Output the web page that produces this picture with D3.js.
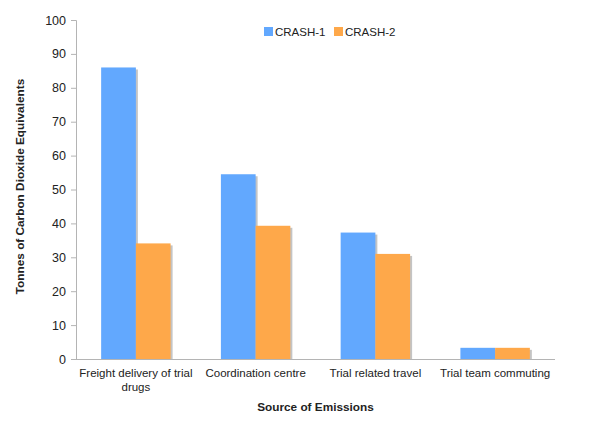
<!DOCTYPE html>
<html>
<head>
<meta charset="utf-8">
<script src="https://cdn.jsdelivr.net/npm/d3@7"></script>
<style>
  body { margin: 0; background: #fff; }
  text { font-family: "Liberation Sans", Arial, sans-serif; fill: #222; }
  .axis path, .axis line { stroke: #b4b4b4; }
</style>
</head>
<body>
<div id="chart"></div>
<script>
var categories = ["Freight delivery of trial drugs", "Coordination centre", "Trial related travel", "Trial team commuting"];
var seriesNames = ["CRASH-1", "CRASH-2"];
var crash1 = [86, 54.5, 37.3, 3.3];
var crash2 = [34.1, 39.3, 31, 3.3];
var yTicks = [0, 10, 20, 30, 40, 50, 60, 70, 80, 90, 100];
var colors = ["#62a8fe", "#fea84a"];

var margin = { top: 20, right: 45, bottom: 74, left: 76 },
    width = 600 - margin.left - margin.right,
    height = 433 - margin.top - margin.bottom;

var svg = d3.select("#chart").append("svg")
    .attr("width", 600)
    .attr("height", 433)
  .append("g")
    .attr("transform", "translate(" + margin.left + "," + margin.top + ")");

var x = d3.scaleBand().domain(categories).range([0, width]);
var x1 = d3.scaleBand().domain(seriesNames).range([x.bandwidth() * 0.21, x.bandwidth() * 0.79]);
var y = d3.scaleLinear().domain([0, 100]).range([height, 0]);

var rows = categories.map(function(c, i) {
  return { cat: c, vals: [{ s: seriesNames[0], v: crash1[i] }, { s: seriesNames[1], v: crash2[i] }] };
});

// y axis
var yAxis = svg.append("g").attr("class", "axis")
    .call(d3.axisLeft(y).tickValues(yTicks).tickSize(5).tickPadding(5));
yAxis.selectAll("text").style("font-size", "12.5px");

var groups = svg.selectAll(".grp")
    .data(rows)
  .enter().append("g")
    .attr("class", "grp")
    .attr("transform", function(d) { return "translate(" + x(d.cat) + ",0)"; });

// shadows
groups.selectAll(".shadow")
    .data(function(d) { return d.vals; })
  .enter().append("rect")
    .attr("x", function(d) { return x1(d.s) + 2; })
    .attr("y", function(d) { return y(d.v) + 2; })
    .attr("width", x1.bandwidth())
    .attr("height", function(d) { return height - y(d.v) - 2; })
    .attr("fill", "#c4c4c4");

groups.selectAll(".bar")
    .data(function(d) { return d.vals; })
  .enter().append("rect")
    .attr("x", function(d) { return x1(d.s); })
    .attr("y", function(d) { return y(d.v); })
    .attr("width", x1.bandwidth())
    .attr("height", function(d) { return height - y(d.v); })
    .attr("fill", function(d, i) { return colors[i]; });

// x axis
var xAxis = svg.append("g").attr("class", "axis")
    .attr("transform", "translate(0," + height + ")")
    .call(d3.axisBottom(x).tickSize(0).tickSizeOuter(0).tickPadding(10));
xAxis.select(".domain").attr("d", "M0,0.5H" + width);
xAxis.selectAll("text").style("font-size", "11.5px").each(function(d) {
  var t = d3.select(this);
  if (d === categories[0]) {
    t.text(null);
    t.append("tspan").attr("x", 0).attr("dy", "0.71em").text("Freight delivery of trial");
    t.append("tspan").attr("x", 0).attr("dy", "1.2em").text("drugs");
  }
});

// axis titles
svg.append("text")
    .attr("transform", "rotate(-90)")
    .attr("x", -height / 2 + 3)
    .attr("y", -52)
    .attr("text-anchor", "middle")
    .style("font-size", "11.8px")
    .style("font-weight", "bold")
    .text("Tonnes of Carbon Dioxide Equivalents");

svg.append("text")
    .attr("x", width / 2)
    .attr("y", height + 52)
    .attr("text-anchor", "middle")
    .style("font-size", "11.8px")
    .style("font-weight", "bold")
    .text("Source of Emissions");

// legend
var legend = svg.append("g").attr("transform", "translate(188,6)");
var lx = [0, 70];
seriesNames.forEach(function(s, i) {
  var g = legend.append("g").attr("transform", "translate(" + lx[i] + ",0)");
  g.append("rect").attr("width", 9).attr("height", 9).attr("y", 1).attr("fill", colors[i]);
  g.append("text").attr("x", 11).attr("y", 10).style("font-size", "11.5px").text(s);
});
</script>
</body>
</html>
